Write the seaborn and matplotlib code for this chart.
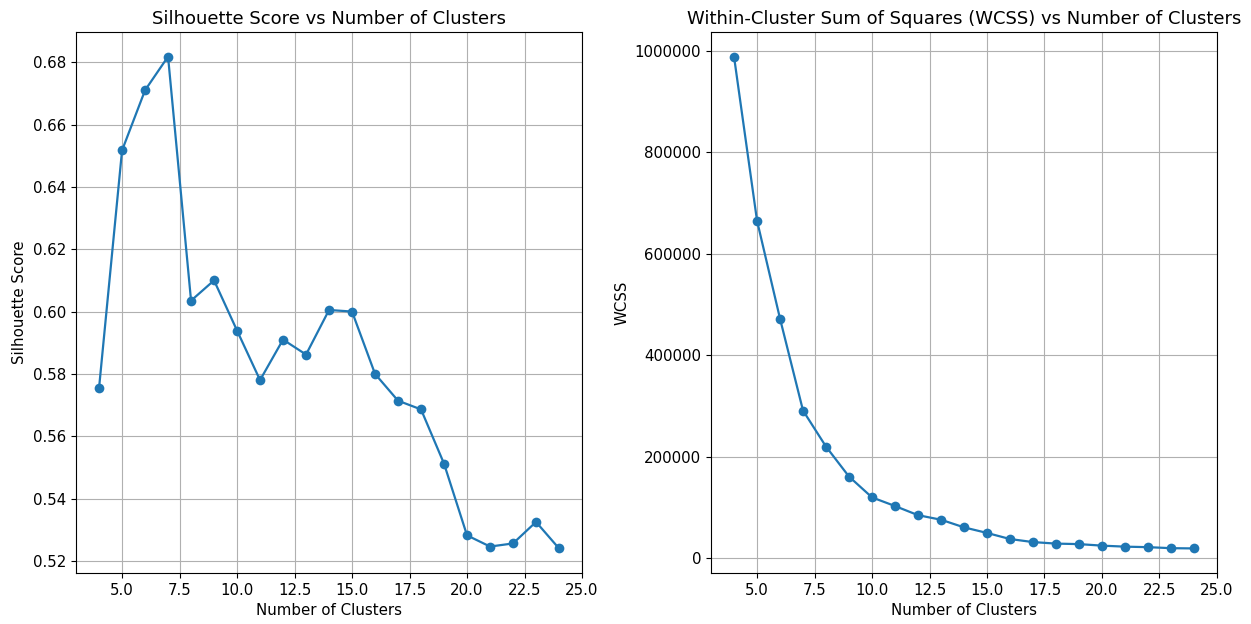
import seaborn as sns
import matplotlib
matplotlib.use('Agg')
import matplotlib.pyplot as plt
import pandas as pd

# Number of clusters tried
k_values = list(range(4, 25))

# Silhouette score for each k
silhouette = [0.5755, 0.6517, 0.6710, 0.6818, 0.6035, 0.6100, 0.5939, 0.5780,
              0.5910, 0.5862, 0.6005, 0.6000, 0.5800, 0.5714, 0.5686, 0.5512,
              0.5282, 0.5246, 0.5256, 0.5325, 0.5240]

# Within-cluster sum of squares for each k
wcss = [988000, 665000, 472000, 291000, 220000, 161000, 120000, 103000,
        85000, 76000, 61000, 50000, 38000, 32000, 29000, 28000,
        25000, 23000, 22000, 20000, 19500]

df = pd.DataFrame({'k': k_values, 'silhouette': silhouette, 'wcss': wcss})

plt.rcParams['font.size'] = 10.8

fig, (ax1, ax2) = plt.subplots(1, 2, figsize=(12.51, 6.24), dpi=100)
plt.subplots_adjust(left=0.0608, right=0.9728, top=0.9487, bottom=0.0817, wspace=0.255)

color = '#1f77b4'

# Silhouette
sns.lineplot(x='k', y='silhouette', data=df, marker='o', color=color,
             markeredgewidth=0, markersize=7, linewidth=1.6, ax=ax1)
ax1.set_title('Silhouette Score vs Number of Clusters', fontsize=13)
ax1.set_xlabel('Number of Clusters')
ax1.set_ylabel('Silhouette Score')
ax1.grid(True, color='#b0b0b0', linewidth=0.8)

# WCSS
sns.lineplot(x='k', y='wcss', data=df, marker='o', color=color,
             markeredgewidth=0, markersize=7, linewidth=1.6, ax=ax2)
ax2.set_title('Within-Cluster Sum of Squares (WCSS) vs Number of Clusters', fontsize=13)
ax2.set_xlabel('Number of Clusters')
ax2.set_ylabel('WCSS')
ax2.ticklabel_format(axis='y', style='plain')
ax2.grid(True, color='#b0b0b0', linewidth=0.8)

plt.savefig('out.png', dpi=100)
